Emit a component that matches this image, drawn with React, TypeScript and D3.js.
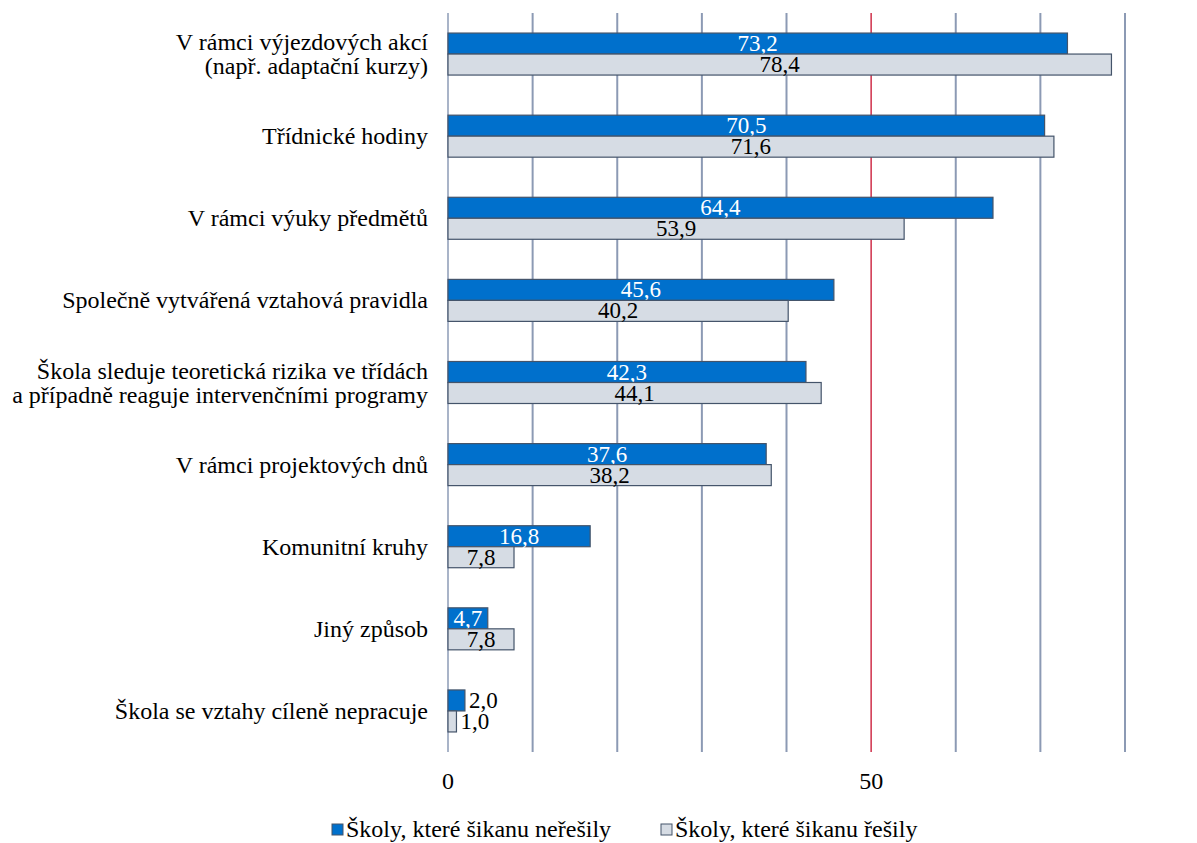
import React from "react";
import * as d3 from "d3";

const categories: string[][] = [
  ["V rámci výjezdových akcí", "(např. adaptační kurzy)"],
  ["Třídnické hodiny"],
  ["V rámci výuky předmětů"],
  ["Společně vytvářená vztahová pravidla"],
  ["Škola sleduje teoretická rizika ve třídách", "a případně reaguje intervenčními programy"],
  ["V rámci projektových dnů"],
  ["Komunitní kruhy"],
  ["Jiný způsob"],
  ["Škola se vztahy cíleně nepracuje"],
];
const seriesNames = ["Školy, které šikanu neřešily", "Školy, které šikanu řešily"];
const notSolved = [73.2, 70.5, 64.4, 45.6, 42.3, 37.6, 16.8, 4.7, 2.0];
const solved = [78.4, 71.6, 53.9, 40.2, 44.1, 38.2, 7.8, 7.8, 1.0];
const gridValues = [0, 10, 20, 30, 40, 50, 60, 70, 80];
const tickLabels = [0, 50];

const W = 1197, H = 843;
const left = 448, right = 1125, top = 13, bottom = 752;
const FONT = "Liberation Serif";
const FS = 24;
const VFS = 23;
const BLUE = "#0070CC";
const GRAY = "#D6DCE4";
const STROKE = "#44546A";
const GRID = "#8C9AB4";
const tStyle = { fontFamily: FONT };

export default function App() {
  const x = d3.scaleLinear().domain([0, 80]).range([left, right]);
  const y = d3.scaleBand<number>().domain(d3.range(categories.length)).range([top, bottom]).paddingInner(0).paddingOuter(0);
  const bw = 21;
  const fmt = (v: number) => v.toFixed(1).replace(".", ",");

  return (
    <svg width={W} height={H} style={{ position: "absolute", left: 0, top: 0 }}>
      <rect width={W} height={H} fill="#fff" />
      {gridValues.map((g) => (
        <line key={g} x1={x(g)} x2={x(g)} y1={top} y2={bottom} stroke={g === 50 ? "#C8102E" : g === 0 ? "#A9B4C8" : GRID} strokeWidth={g === 50 ? 1.3 : 2} />
      ))}
      {categories.map((lines, i) => {
        const cy = (y(i) as number) + y.bandwidth() / 2;
        const vals = [notSolved[i], solved[i]];
        return (
          <g key={i}>
            {vals.map((v, s) => {
              const by = cy - bw + s * bw;
              const x1 = x(v);
              const small = v < 3;
              return (
                <g key={s}>
                  <rect x={x(0)} y={by} width={x1 - x(0)} height={bw} fill={s === 0 ? BLUE : GRAY} stroke={STROKE} strokeWidth={1.2} />
                  <text
                    x={small ? x1 + 4 : (x(0) + x1) / 2}
                    y={by + bw - 3}
                    textAnchor={small ? "start" : "middle"}
                    fontSize={VFS}
                    style={tStyle}
                    fill={s === 0 && !small ? "#fff" : "#000"}
                  >
                    {fmt(v)}
                  </text>
                </g>
              );
            })}
            {lines.map((l, k) => (
              <text key={k} x={428} y={cy + 8 + (k - (lines.length - 1) / 2) * 24} textAnchor="end" fontSize={FS} style={tStyle} fill="#000">
                {l}
              </text>
            ))}
          </g>
        );
      })}
      {tickLabels.map((t) => (
        <text key={t} x={x(t)} y={789} textAnchor="middle" fontSize={FS} style={tStyle} fill="#000">{t}</text>
      ))}
      {seriesNames.map((n, i) => {
        const lx = i === 0 ? 332 : 661;
        return (
          <g key={i}>
            <rect x={lx} y={824} width={11} height={11} fill={i === 0 ? BLUE : GRAY} stroke={STROKE} strokeWidth={1} />
            <text x={lx + 14} y={837} fontSize={FS} style={tStyle} fill="#000">{n}</text>
          </g>
        );
      })}
    </svg>
  );
}
